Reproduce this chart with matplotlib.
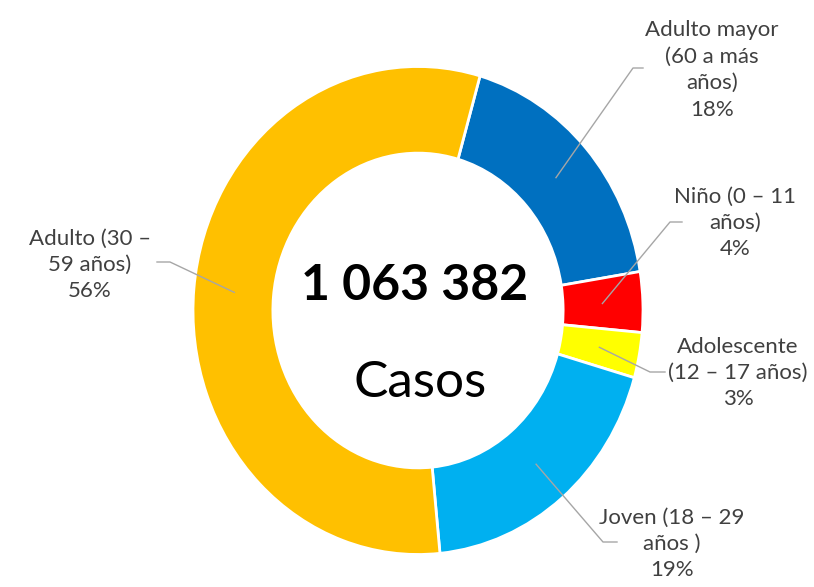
import numpy as np
import matplotlib.pyplot as plt

plt.rcParams['font.family'] = ['Lato', 'DejaVu Sans']

# casos por grupo de edad (orden horario desde arriba)
grupos = ['Adulto mayor\n(60 a más\naños)', 'Niño (0 – 11\naños)',
          'Adolescente\n(12 – 17 años)', 'Joven (18 – 29\naños )',
          'Adulto (30 –\n59 años)']
porcentajes = [18, 4, 3, 19, 56]
colores = ['#0070C0', '#FF0000', '#FFFF00', '#00B0F0', '#FFC000']
total = '1 063 382'

W, H = 814, 587
cx, cy = 418, 310.5      # centro del anillo en pixeles (origen arriba)
rx, ry = 225, 244        # el anillo original esta algo estirado en vertical


def px(x, y):
    # pixeles (origen arriba-izquierda) -> datos
    return (x - cx) / rx, (cy - y) / ry


fig = plt.figure(figsize=(W / 100, H / 100), dpi=100)
ax = fig.add_axes([0, 0, 1, 1])
wedges, _ = ax.pie(porcentajes, colors=colores, startangle=74,
                   counterclock=False, radius=1,
                   wedgeprops=dict(width=0.355, edgecolor='white',
                                   linewidth=2))
ax.set_aspect('auto')
ax.set_xlim(-cx / rx, (W - cx) / rx)
ax.set_ylim(-(H - cy) / ry, cy / ry)
ax.axis('off')

# posiciones de las etiquetas (centro del texto) y codo de la guía
pos_txt = [(712, 70), (735, 223), (738, 373), (672, 544), (90, 265)]
codos = [(633, 68), (670, 222), (650, 372), (603, 542), (170, 262)]
finales = [(643, 68), (682, 222), (665, 372), (617, 542), (157, 262)]

for w, lab, p, t, c, f in zip(wedges, grupos, porcentajes, pos_txt, codos, finales):
    ang = np.deg2rad((w.theta1 + w.theta2) / 2)
    a = (0.82 * np.cos(ang), 0.82 * np.sin(ang))
    c, f = px(*c), px(*f)
    ax.plot([a[0], c[0], f[0]], [a[1], c[1], f[1]], color='#A6A6A6', lw=1)
    ax.text(*px(*t), f'{lab}\n{p}%', ha='center', va='center',
            fontsize=16, color='#404040', linespacing=1.4)

ax.text(*px(415, 285), total, ha='center', va='center', fontsize=36,
        fontweight='bold', color='black')
ax.text(*px(420, 383), 'Casos', ha='center', va='center', fontsize=37,
        color='black')

fig.savefig('out.png', dpi=100)
